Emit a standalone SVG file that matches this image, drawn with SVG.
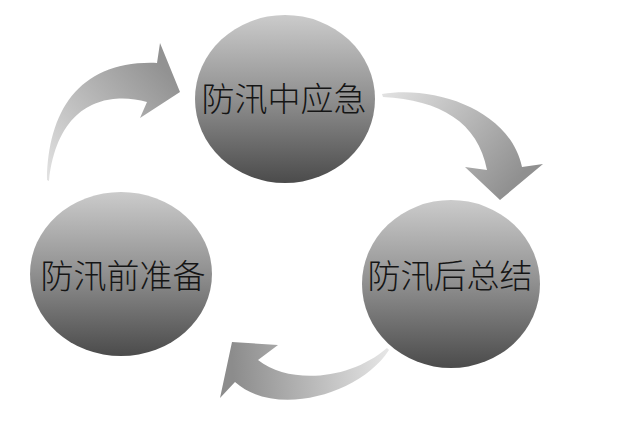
<svg xmlns="http://www.w3.org/2000/svg" width="625" height="432" viewBox="0 0 625 432">
  <style>
    .ball { stroke: none; }
    .lbl { font-family: "Noto Sans CJK SC", "Noto Sans", sans-serif; font-size: 33px; font-weight: 300; fill: #151515; text-anchor: middle; dominant-baseline: central; }
    .arr { stroke: none; }
  </style>
  <defs>
    <linearGradient id="gBall" x1="0" y1="0" x2="0" y2="1">
      <stop offset="0" stop-color="#cbcbcb"/>
      <stop offset="0.5" stop-color="#8f8f8f"/>
      <stop offset="1" stop-color="#4b4b4b"/>
    </linearGradient>
    <linearGradient id="gA1" gradientUnits="userSpaceOnUse" x1="47" y1="180" x2="170" y2="75">
      <stop offset="0" stop-color="#e2e2e2"/>
      <stop offset="1" stop-color="#929292"/>
    </linearGradient>
    <linearGradient id="gA2" gradientUnits="userSpaceOnUse" x1="382" y1="94" x2="505" y2="195">
      <stop offset="0" stop-color="#e2e2e2"/>
      <stop offset="1" stop-color="#909090"/>
    </linearGradient>
    <linearGradient id="gA3" gradientUnits="userSpaceOnUse" x1="388" y1="350" x2="232" y2="360">
      <stop offset="0" stop-color="#e6e6e6"/>
      <stop offset="1" stop-color="#8c8c8c"/>
    </linearGradient>
  </defs>
  <rect width="625" height="432" fill="#ffffff"/>
  <g id="connectors">
    <path id="arrow-prep-to-during" class="arr" fill="url(#gA1)" d="M 47,180 C 48,110 80,60 157,63 L 160,43 L 180,92 L 140,118 L 147,102 C 110,92 58,100 49,181 Z"/>
    <path id="arrow-during-to-after" class="arr" fill="url(#gA2)" d="M 382,94 C 435,85 510,110 522,167 L 543,164 L 500,200 L 465,167 L 487,170 C 478,122 440,100 383,97 Z"/>
    <path id="arrow-after-to-prep" class="arr" fill="url(#gA3)" d="M 389,350 C 360,395 275,418 235,382 L 220,398 L 232,342 L 278,345 L 258,360 C 290,385 350,380 387,348 Z"/>
  </g>
  <g id="node-during">
    <ellipse class="ball" cx="285" cy="99" rx="90" ry="84" fill="url(#gBall)"/>
    <text class="lbl" x="284" y="97">防汛中应急</text>
  </g>
  <g id="node-before">
    <ellipse class="ball" cx="121" cy="274" rx="91" ry="82" fill="url(#gBall)"/>
    <text class="lbl" x="123" y="274">防汛前准备</text>
  </g>
  <g id="node-after">
    <ellipse class="ball" cx="451" cy="284" rx="89" ry="84" fill="url(#gBall)"/>
    <text class="lbl" x="450" y="274">防汛后总结</text>
  </g>
</svg>
